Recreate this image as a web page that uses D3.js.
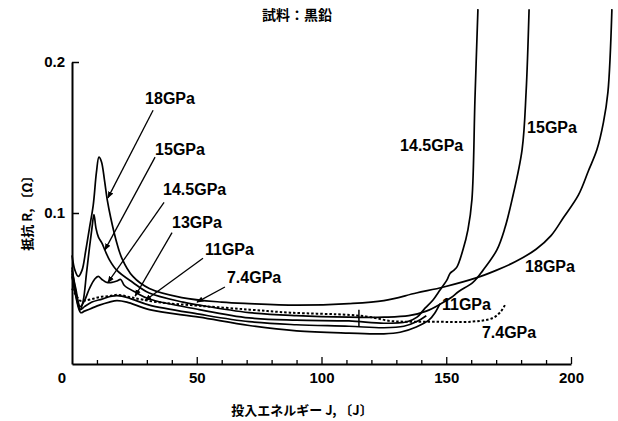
<!DOCTYPE html>
<html>
<head>
<meta charset="utf-8">
<script src="https://cdn.jsdelivr.net/npm/d3@7"></script>
<style>
  body { margin: 0; background: #fff; }
  svg text { fill: #000; }
  .num { font-family: "Liberation Sans", Arial, sans-serif; font-weight: bold; }
  .jp { font-family: "Noto Sans CJK JP", sans-serif; font-weight: bold; }
</style>
</head>
<body>
<svg id="chart" width="618" height="421"></svg>
<script>
// ----- DATA -----
// [energy J, resistance R]
var p18 = [[0,0.072],[1.2,0.062],[2.5,0.058],[4,0.062],[5.5,0.075],[7,0.09],[8.5,0.105],[9.8,0.127],[10.8,0.137],[11.8,0.134],[13,0.122],[14.2,0.108],[15.5,0.097],[17.5,0.083],[20,0.07],[24.4,0.058],[31,0.05],[44,0.044],[60,0.041],[71,0.040],[90,0.039],[111,0.040],[125,0.042],[138,0.047],[149,0.051],[162,0.057],[170,0.062],[178,0.068],[186,0.076],[192,0.085],[197,0.097],[203,0.112],[207,0.128],[210.4,0.142],[213,0.16],[214.8,0.18],[216.4,0.235]];
var p15 = [[0,0.064],[1.5,0.048],[3.3,0.036],[4.5,0.042],[5.8,0.06],[7,0.077],[8,0.09],[8.8,0.099],[9.6,0.09],[10.6,0.084],[12,0.08],[13.3,0.075],[15,0.069],[18,0.062],[24.4,0.054],[31,0.047],[44.5,0.041],[51,0.039],[71,0.034],[90,0.032],[111,0.031],[125,0.031],[135,0.032],[142,0.035],[148,0.040],[152,0.044],[155,0.048],[160.7,0.054],[164.7,0.062],[170.3,0.0756],[173.5,0.09],[176.4,0.109],[180.4,0.142],[182,0.18],[183.2,0.235]];
var p145 = [[0,0.062],[1.5,0.05],[3.3,0.038],[5,0.042],[7,0.05],[9,0.056],[10.5,0.058],[12,0.056],[14,0.054],[16,0.054],[18,0.055],[19.5,0.056],[21,0.052],[26,0.047],[31,0.043],[51,0.036],[71,0.0305],[90,0.029],[111,0.0285],[125,0.027],[134.3,0.028],[138.3,0.031],[141.5,0.037],[144.7,0.0424],[147.5,0.049],[150.3,0.0557],[151.5,0.06],[153,0.062],[154.3,0.0643],[156.7,0.0756],[158.7,0.089],[160.3,0.109],[161.5,0.175],[162.7,0.235]];
var p13 = [[0,0.058],[1.5,0.046],[3.3,0.036],[5,0.038],[8,0.041],[12,0.043],[16,0.045],[20,0.045],[24,0.043],[31,0.039],[51,0.033],[71,0.028],[90,0.026],[111,0.025],[125,0.024],[133,0.025],[138,0.028],[142,0.032]];
var p11 = [[0,0.06],[1.5,0.045],[3.5,0.034],[5,0.035],[8,0.037],[11,0.039],[15,0.041],[18,0.042],[22,0.041],[31,0.036],[51,0.031],[71,0.0255],[90,0.022],[111,0.0205],[125,0.020],[131.5,0.021],[138,0.0245],[143,0.029],[145.5,0.034],[147.5,0.040]];
var p74 = [[0,0.05],[1.5,0.046],[3.2,0.042],[5.2,0.042],[8,0.043],[11.2,0.0444],[15,0.045],[18.4,0.0458],[24,0.044],[34,0.041],[51.3,0.0385],[71.3,0.036],[87.4,0.034],[111.4,0.0325],[120,0.031],[127.5,0.0285],[135,0.028],[145.5,0.028],[160,0.028],[168.7,0.0305],[172,0.035],[173.5,0.039]];

var seriesNames = ["18GPa", "15GPa", "14.5GPa", "13GPa", "11GPa", "7.4GPa"];
var seriesData = [p18, p15, p145, p13, p11, p74];
var seriesDotted = [false, false, false, false, false, true];

var xMajorTicks = [50, 100, 150, 200];
var xMinorTicks = [10, 20, 30, 40, 60, 70, 80, 90, 110, 120, 130, 140, 160, 170, 180, 190];
var yTicks = [0.1, 0.2];

// left labels with leader lines: [label x, label R], [leader start], [arrow tip]
var leftLabelAt = [[29.3,0.1724],[33.3,0.1386],[36.5,0.112],[40.1,0.0902],[53.3,0.0723],[62.1,0.0537]];
var leaderFrom = [[32.5,0.168],[33.3,0.137],[36.9,0.107],[40.1,0.087],[52.5,0.070],[61.3,0.051]];
var leaderTo = [[14.4,0.110],[13.2,0.0756],[14.4,0.054],[25.3,0.045],[29.3,0.042],[50.1,0.041]];

// labels at the right hand ends
var rightLabels = ["14.5GPa", "15GPa", "18GPa", "11GPa", "7.4GPa"];
var rightLabelAt = [[131.5,0.1412],[182.4,0.1532],[181.6,0.061],[148.3,0.0358],[164.3,0.0172]];

// short vertical mark on the curves
var markX = 115;
var markR = [0.0245, 0.036];

// ----- CHART -----
var svg = d3.select("#chart");
var x = d3.scaleLinear().domain([0, 200]).range([72, 571]);
var y = d3.scaleLinear().domain([0, 0.2]).range([364, 62]);

svg.append("defs").append("marker")
    .attr("id", "arrow")
    .attr("viewBox", "0 0 10 10")
    .attr("refX", 9).attr("refY", 5)
    .attr("markerWidth", 7).attr("markerHeight", 7)
    .attr("markerUnits", "userSpaceOnUse")
    .attr("orient", "auto")
  .append("path")
    .attr("d", "M0,1 L10,5 L0,9 Z")
    .attr("fill", "#000");

// x axis: minor ticks, then major ticks with labels
svg.append("g")
    .attr("transform", "translate(0,364)")
    .call(d3.axisBottom(x).tickValues(xMinorTicks).tickSize(-4).tickSizeOuter(0).tickFormat(""))
    .call(function (g) { g.select(".domain").remove(); })
    .selectAll("line").attr("stroke-width", 1.3);

var xAxis = svg.append("g")
    .attr("transform", "translate(0,364)")
    .call(d3.axisBottom(x).tickValues(xMajorTicks).tickSize(-7).tickSizeOuter(0).tickPadding(8).tickFormat(d3.format("d")));
xAxis.select(".domain").attr("stroke-width", 2);
xAxis.selectAll("line").attr("stroke-width", 1.3);
xAxis.selectAll("text").attr("class", "num").style("font-size", "15px");

var yAxis = svg.append("g")
    .attr("transform", "translate(72,0)")
    .call(d3.axisLeft(y).tickValues(yTicks).tickSize(-7).tickSizeOuter(0).tickPadding(7).tickFormat(d3.format(".1f")));
yAxis.select(".domain").attr("stroke-width", 2);
yAxis.selectAll("line").attr("stroke-width", 1.5);
yAxis.selectAll("text").attr("class", "num").style("font-size", "15px");

// shared origin label
svg.append("text").attr("class", "num")
    .attr("x", x(0) - 10).attr("y", y(0) + 19)
    .attr("text-anchor", "middle")
    .style("font-size", "15px")
    .text("0");

// ----- CURVES -----
var line = d3.line()
    .x(function (d) { return x(d[0]); })
    .y(function (d) { return y(d[1]); })
    .curve(d3.curveCatmullRom.alpha(0.5));

seriesData.forEach(function (data, i) {
    svg.append("path")
        .datum(data)
        .attr("d", line)
        .attr("fill", "none")
        .attr("stroke", "#000")
        .attr("stroke-width", seriesDotted[i] ? 2 : 1.7)
        .attr("stroke-dasharray", seriesDotted[i] ? "2.5,2" : null);
});

svg.append("line")
    .attr("x1", x(markX)).attr("x2", x(markX))
    .attr("y1", y(markR[0])).attr("y2", y(markR[1]))
    .attr("stroke", "#000").attr("stroke-width", 1.5);

// ----- LABELS -----
seriesNames.forEach(function (name, i) {
    svg.append("line")
        .attr("x1", x(leaderFrom[i][0])).attr("y1", y(leaderFrom[i][1]))
        .attr("x2", x(leaderTo[i][0])).attr("y2", y(leaderTo[i][1]))
        .attr("stroke", "#000").attr("stroke-width", 1.3)
        .attr("marker-end", "url(#arrow)");
    svg.append("text").attr("class", "num")
        .attr("x", x(leftLabelAt[i][0])).attr("y", y(leftLabelAt[i][1]))
        .style("font-size", "16px")
        .text(name);
});

rightLabels.forEach(function (name, i) {
    svg.append("text").attr("class", "num")
        .attr("x", x(rightLabelAt[i][0])).attr("y", y(rightLabelAt[i][1]))
        .style("font-size", "16px")
        .text(name);
});

// titles
svg.append("text").attr("class", "jp")
    .attr("x", 297).attr("y", 20)
    .attr("text-anchor", "middle")
    .style("font-size", "14px")
    .text("試料：黒鉛");

svg.append("text").attr("class", "jp")
    .attr("x", 302).attr("y", 415)
    .attr("text-anchor", "middle")
    .style("font-size", "13px")
    .text("投入エネルギー J, 〔J〕");

svg.append("text").attr("class", "jp")
    .attr("transform", "translate(32,210) rotate(-90)")
    .attr("text-anchor", "middle")
    .style("font-size", "13px")
    .text("抵抗 R, 〔Ω〕");
</script>
</body>
</html>
